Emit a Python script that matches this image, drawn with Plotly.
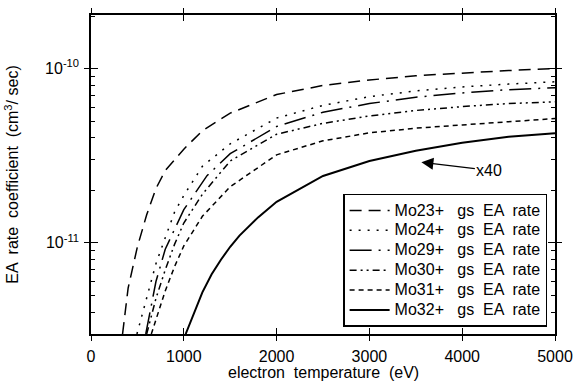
import numpy as np
import plotly.graph_objects as go

# ---- data ----
t_mo23 = [340, 400, 500, 600, 700, 800, 1000, 1200, 1500, 2000, 2500, 3000, 3500, 4000, 4500, 5000]
k_mo23 = [3.0e-12, 5.5e-12, 9.5e-12, 1.45e-11, 2.05e-11, 2.6e-11, 3.45e-11, 4.4e-11, 5.55e-11,
          7.1e-11, 8.0e-11, 8.6e-11, 9.1e-11, 9.45e-11, 9.75e-11, 1.0e-10]

t_mo24 = [495, 600, 700, 800, 900, 1000, 1200, 1500, 2000, 2500, 3000, 3500, 4000, 4500, 5000]
k_mo24 = [3.0e-12, 4.9e-12, 7.6e-12, 1.07e-11, 1.5e-11, 1.87e-11, 2.75e-11, 3.7e-11, 5.2e-11,
          6.15e-11, 6.9e-11, 7.45e-11, 7.85e-11, 8.15e-11, 8.4e-11]

t_mo29 = [590, 700, 800, 1000, 1250, 1500, 2000, 2500, 3000, 3500, 4000, 4500, 5000]
k_mo29 = [3.0e-12, 6.0e-12, 9.2e-12, 1.55e-11, 2.43e-11, 3.25e-11, 4.65e-11, 5.62e-11, 6.3e-11,
          6.85e-11, 7.25e-11, 7.57e-11, 7.77e-11]

t_mo30 = [600, 700, 800, 900, 1000, 1200, 1500, 2000, 2500, 3000, 3500, 4000, 4500, 5000]
k_mo30 = [3.0e-12, 4.8e-12, 7.0e-12, 9.8e-12, 1.3e-11, 1.9e-11, 2.95e-11, 4.2e-11, 4.85e-11,
          5.35e-11, 5.75e-11, 6.05e-11, 6.3e-11, 6.45e-11]

t_mo31 = [650, 700, 800, 900, 1000, 1200, 1500, 2000, 2500, 3000, 3500, 4000, 4500, 5000]
k_mo31 = [3.0e-12, 3.6e-12, 5.3e-12, 7.3e-12, 9.6e-12, 1.42e-11, 2.1e-11, 3.2e-11, 3.85e-11,
          4.28e-11, 4.55e-11, 4.75e-11, 4.97e-11, 5.17e-11]

t_mo32 = [1020, 1100, 1200, 1300, 1400, 1500, 1600, 1800, 2000, 2500, 3000, 3500, 4000, 4500, 5000]
k_mo32 = [3.0e-12, 3.8e-12, 5.2e-12, 6.6e-12, 8.0e-12, 9.5e-12, 1.1e-11, 1.4e-11, 1.72e-11,
          2.42e-11, 2.95e-11, 3.38e-11, 3.75e-11, 4.06e-11, 4.25e-11]

series_names = ["Mo23+   gs  EA  rate", "Mo24+   gs  EA  rate", "Mo29+   gs  EA  rate",
                "Mo30+   gs  EA  rate", "Mo31+   gs  EA  rate", "Mo32+   gs  EA  rate"]

x_ticks = [0, 1000, 2000, 3000, 4000, 5000]
y_major = [1e-11, 1e-10]
y_major_text = ["10<sup>-11</sup>", "10<sup>-10</sup>"]
y_minor = [4e-12, 5e-12, 6e-12, 7e-12, 8e-12, 9e-12,
           2e-11, 3e-11, 4e-11, 5e-11, 6e-11, 7e-11, 8e-11, 9e-11, 2e-10]

x_range = [0, 5000]
y_range = [3.0e-12, 2.03e-10]

x_title = "electron  temperature  (eV)"
y_title = "EA  rate  coefficient  (cm<sup>3</sup>/ sec)"
annot_x, annot_y, annot_text = 3560, 2.9e-11, "x40"

# ---- styles ----
styles = [
    dict(dash="12px,7px", width=1.5),
    dict(dash="2px,7px", width=1.5),
    dict(dash="22px,7px,2px,7px", width=1.5),
    dict(dash="7px,4px,2px,4px,2px,4px", width=1.5),
    dict(dash="5px,4px", width=1.5),
    dict(dash="solid", width=2),
]

data = [(t_mo23, k_mo23), (t_mo24, k_mo24), (t_mo29, k_mo29),
        (t_mo30, k_mo30), (t_mo31, k_mo31), (t_mo32, k_mo32)]

FONT = "Liberation Sans, Arial, Helvetica, sans-serif"

fig = go.Figure()
for i, ((tx, ky), name, st) in enumerate(zip(data, series_names, styles)):
    last = (i == len(data) - 1)
    fig.add_trace(go.Scatter(
        x=tx, y=ky, mode="lines",
        name='<span style="font-size:16px">' + name + '</span>',
        line=dict(color="black", width=st["width"], dash=st["dash"]),
        xaxis="x2" if last else "x", yaxis="y2" if last else "y",
    ))

axis_common = dict(showgrid=False, zeroline=False, linecolor="black", linewidth=1.5,
                   tickcolor="black", tickwidth=1.2, automargin=False)

fig.update_layout(
    width=574, height=389,
    margin=dict(l=91, r=19, t=15, b=55, autoexpand=False),
    paper_bgcolor="white", plot_bgcolor="white",
    font=dict(family=FONT, color="black", size=14),
    xaxis=dict(range=x_range, tickvals=x_ticks, ticktext=[str(v) for v in x_ticks],
               ticks="outside", ticklen=5, mirror="ticks", showline=True,
               tickfont=dict(size=16), ticklabelstandoff=2,
               **axis_common),
    yaxis=dict(type="log", range=[np.log10(y_range[0]), np.log10(y_range[1])],
               tickvals=y_major, ticktext=y_major_text,
               ticks="outside", ticklen=5, mirror="ticks", showline=True,
               minor=dict(tickvals=y_minor, ticks="inside", ticklen=4, tickcolor="black", tickwidth=1),
               tickfont=dict(size=16), ticklabelstandoff=2,
               title=dict(text=y_title, font=dict(size=16), standoff=22),
               **axis_common),
    xaxis2=dict(range=x_range, tickvals=x_ticks, overlaying="x", anchor="y2", side="bottom",
                ticks="inside", ticklen=6, mirror="ticks", showline=False, showticklabels=False,
                **axis_common),
    yaxis2=dict(type="log", range=[np.log10(y_range[0]), np.log10(y_range[1])],
                tickvals=y_major, overlaying="y", anchor="x2", side="left",
                ticks="inside", ticklen=7, mirror="ticks", showline=False, showticklabels=False,
                **axis_common),
    legend=dict(x=0.983, y=0.022, xanchor="right", yanchor="bottom",
                bgcolor="white", bordercolor="black", borderwidth=1.5,
                font=dict(size=13, family=FONT), itemwidth=40,
                tracegroupgap=0),
    showlegend=True,
    annotations=[
        dict(x=annot_x, y=np.log10(annot_y), xref="x", yref="y",
             text=annot_text, showarrow=True, ax=68, ay=8,
             arrowhead=2, arrowsize=2, arrowwidth=1.2, arrowcolor="black",
             font=dict(size=16, family=FONT)),
        dict(x=0.5, y=-0.12, xref="paper", yref="paper", xanchor="center", yanchor="middle",
             text=x_title, showarrow=False, font=dict(size=16, family=FONT)),
    ],
)

fig.write_html("out.html")
